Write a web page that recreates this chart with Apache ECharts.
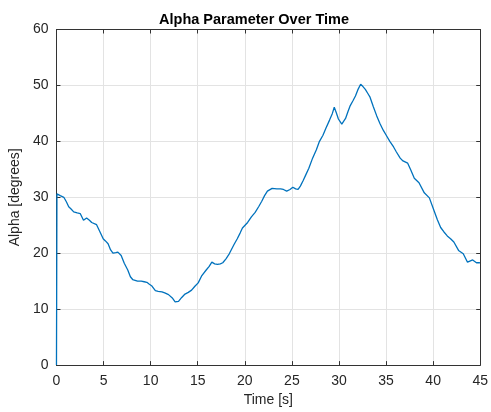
<!DOCTYPE html>
<html>
<head>
<meta charset="utf-8">
<script src="https://cdn.jsdelivr.net/npm/echarts@6/dist/echarts.min.js"></script>
<style>
  html, body { margin: 0; padding: 0; background: #fff; }
  #chart { width: 491px; height: 412px; }
</style>
</head>
<body>
<div id="chart"></div>
<script>
// Time samples [s]
const timeS = [
  0, 0.05, 0.4, 0.78, 1.05, 1.3, 1.55, 1.83, 2.2, 2.52, 2.87, 3.2, 3.5, 3.74, 4.26, 4.6,
  4.96, 5.2, 5.48, 5.75, 6.0, 6.3, 6.52, 6.87, 7.2, 7.57, 7.85, 8.09, 8.61, 9.0, 9.31,
  9.6, 9.83, 10.1, 10.5, 10.8, 11.2, 11.5, 11.9, 12.3, 12.6, 12.8, 12.96, 13.3, 13.65,
  14.0, 14.35, 14.7, 15.05, 15.4, 15.9, 16.2, 16.5, 16.8, 17.1, 17.4, 17.66, 18.0,
  18.35, 18.87, 19.2, 19.5, 19.75, 20.3, 20.7, 21.1, 21.5, 21.8, 22.1, 22.4, 22.9,
  23.4, 23.8, 24.1, 24.45, 24.8, 25.1, 25.4, 25.66, 25.9, 26.2, 26.5, 26.8, 27.2,
  27.6, 27.9, 28.3, 28.6, 29.0, 29.3, 29.5, 29.7, 29.94, 30.3, 30.7, 30.95, 31.2,
  31.5, 31.75, 32.0, 32.3, 32.55, 32.8, 33.05, 33.3, 33.65, 34.0, 34.35, 34.7, 35.05,
  35.4, 35.8, 36.1, 36.5, 36.8, 37.3, 37.65, 38.0, 38.5, 39.06, 39.6, 40.1, 40.45,
  40.8, 41.15, 41.5, 41.85, 42.2, 42.7, 43.2, 43.65, 43.9, 44.2, 44.6, 44.97, 45
];
// Alpha angle [degrees]
const alphaDeg = [
  0, 30.6, 30.3, 30.0, 29.2, 28.3, 27.9, 27.4, 27.2, 27.1, 25.9, 26.3, 25.9, 25.5, 25.1, 23.9,
  22.6, 22.2, 21.7, 20.6, 20.0, 20.1, 20.2, 19.6, 18.2, 17.0, 15.8, 15.3, 15.0, 15.0, 14.9,
  14.8, 14.5, 14.2, 13.3, 13.2, 13.1, 12.9, 12.6, 12.0, 11.3, 11.1, 11.4, 12.1, 12.7,
  13.0, 13.4, 14.1, 14.7, 15.9, 17.0, 17.6, 18.4, 18.1, 18.0, 18.1, 18.3, 19.0,
  19.9, 21.6, 22.6, 23.6, 24.5, 25.5, 26.5, 27.3, 28.4, 29.3, 30.3, 31.1, 31.6,
  31.5, 31.5, 31.4, 31.1, 31.4, 31.8, 31.5, 31.4, 32.0, 33.0, 34.1, 35.2, 37.0,
  38.5, 39.9, 41.1, 42.3, 43.8, 45.0, 46.1, 45.2, 44.0, 43.1, 44.1, 45.3, 46.4,
  47.3, 48.1, 49.2, 50.2, 49.8, 49.3, 48.6, 47.9, 46.2, 44.6, 43.2, 42.0, 41.0,
  40.0, 39.0, 38.1, 37.0, 36.5, 36.1, 34.8, 33.4, 32.6, 30.8, 29.9, 27.6, 26.0,
  24.6, 23.8, 23.1, 22.6, 22.0, 20.5, 19.9, 18.4, 18.6, 18.8, 18.3, 18.3, 18.2
];

const xTicks = { min: 0, max: 45, interval: 5 };
const yTicks = { min: 0, max: 60, interval: 10 };

const font = 'Liberation Sans, Arial, Helvetica, sans-serif';
const axisColor = '#333333';
const gridColor = '#e3e3e3';

const chart = echarts.init(document.getElementById('chart'), null, { renderer: 'canvas' });

const seriesData = timeS.map((t, i) => [t, alphaDeg[i]]);

// Shared settings for the boxed frame: axis line plus inward ticks on every side
const boxAxisX = {
  type: 'value', min: xTicks.min, max: xTicks.max, interval: xTicks.interval,
  axisLine: { show: true, onZero: false, lineStyle: { color: axisColor, width: 1 } },
  axisTick: { show: true, inside: true, length: 4, lineStyle: { color: axisColor } },
  splitLine: { show: false }
};
const boxAxisY = {
  type: 'value', min: yTicks.min, max: yTicks.max, interval: yTicks.interval,
  axisLine: { show: true, onZero: false, lineStyle: { color: axisColor, width: 1 } },
  axisTick: { show: true, inside: true, length: 4, lineStyle: { color: axisColor } },
  splitLine: { show: false }
};

chart.setOption({
  animation: false,
  backgroundColor: '#ffffff',
  title: {
    text: 'Alpha Parameter Over Time',
    left: 249, top: 7, textAlign: 'center',
    textStyle: { fontFamily: font, fontSize: 14.5, fontWeight: 'bold', color: '#000' }
  },
  grid: { left: 52.5, right: 7.5, top: 29.5, bottom: 42.5, containLabel: false },
  xAxis: [
    Object.assign({}, boxAxisX, {
      position: 'bottom',
      name: 'Time [s]', nameLocation: 'middle', nameGap: 25,
      nameTextStyle: { fontFamily: font, fontSize: 14, color: '#262626' },
      axisLabel: { show: true, margin: 9, fontFamily: font, fontSize: 14, color: '#262626' },
      splitLine: { show: true, lineStyle: { color: gridColor, width: 1 } }
    }),
    Object.assign({}, boxAxisX, { position: 'top', axisLabel: { show: false } })
  ],
  yAxis: [
    Object.assign({}, boxAxisY, {
      position: 'left',
      name: 'Alpha [degrees]', nameLocation: 'middle', nameGap: 27,
      nameTextStyle: { fontFamily: font, fontSize: 14, color: '#262626' },
      axisLabel: { show: true, margin: 8, fontFamily: font, fontSize: 14, color: '#262626' },
      splitLine: { show: true, lineStyle: { color: gridColor, width: 1 } }
    }),
    Object.assign({}, boxAxisY, { position: 'right', axisLabel: { show: false } })
  ],
  series: [{
    type: 'line',
    xAxisIndex: 0, yAxisIndex: 0,
    data: seriesData,
    showSymbol: false,
    symbol: 'none',
    lineStyle: { color: '#0072BD', width: 1.3 },
    z: 3
  }]
});
</script>
</body>
</html>
